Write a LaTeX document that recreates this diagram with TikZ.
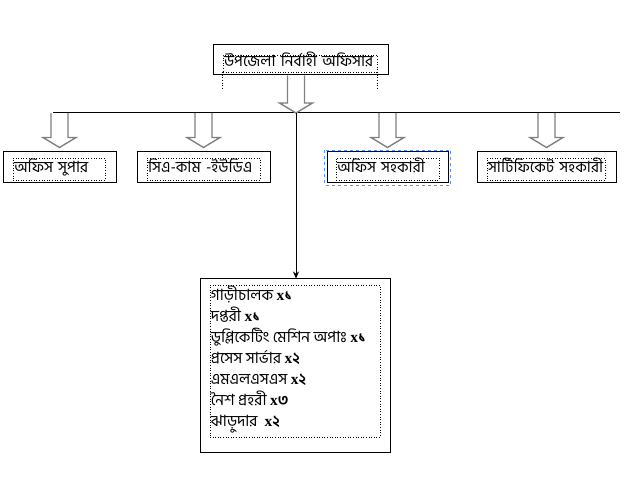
\documentclass[tikz,border=0pt]{standalone}
\usepackage{fontspec}
\setmainfont{Liberation Serif}
\newfontfamily\bangla[Script=Bengali]{Hind Siliguri}
\usetikzlibrary{calc, arrows.meta}
\newcommand{\cnt}[1]{{\rmfamily\bfseries x}{\bfseries #1}}
\tikzset{
outerbox/.style={draw, line width=1pt, minimum height=31pt, inner sep=0pt}, % solid frame round each post
innerbox/.style={draw, dotted, line width=0.6pt, inner sep=1pt, minimum height=22pt, text height=11pt, text depth=4pt, align=left, font=\bangla\fontsize{15.5}{17}\selectfont}, % dotted frame that holds the text
blockarrow/.style={draw=gray, line width=1.4pt, to path={let \p1=(\tikztostart), \p2=(\tikztotarget) in (\x1-8.5pt,\y1) -- (\x1-8.5pt,\y2+10pt) -- (\x1-16.5pt,\y2+10pt) -- (\x2,\y2) -- (\x1+16.5pt,\y2+10pt) -- (\x1+8.5pt,\y2+10pt) -- (\x1+8.5pt,\y1)}}, % hollow arrow
listtext/.style={align=left, inner sep=1pt, font=\bangla\fontsize{15.5}{21}\selectfont}, % staff list
selbox/.style={draw=blue!60!cyan!70, dashed, line width=0.7pt}, % selection frame
}
\begin{document}
\begin{tikzpicture}[x=1pt, y=-1pt]
\useasboundingbox (0,0) rectangle (624,486);
% top post
\node[outerbox, minimum width=175pt, minimum height=30pt] (uno) at (300.5,60) {};
\node[innerbox, text width=152pt, minimum height=17pt] (unoText) at (300,63.5) {উপজেলা নির্বাহী অফিসার};
\draw[dotted, line width=0.6pt] (unoText.south west) -- ++(0,16);
\draw[dotted, line width=0.6pt] (unoText.south east) -- ++(0,16);
% second row
\node[outerbox, minimum width=113pt] (supar) at (59.5,167.5) {};
\node[innerbox, text width=90pt] (suparText) at (59,169) {অফিস সুপার};
\node[outerbox, minimum width=133pt] (ca) at (203.5,167.5) {};
\node[innerbox, text width=111pt] (caText) at (203.5,169) {সিএ-কাম -ইউডিএ};
\node[outerbox, minimum width=121pt] (sohokari) at (387.5,167.5) {};
\node[innerbox, text width=101pt] (sohokariText) at (387.5,169) {অফিস সহকারী};
\draw[selbox] ([shift={(-2pt,1pt)}]sohokari.north west) rectangle ([shift={(2pt,-2pt)}]sohokari.south east);
\node[outerbox, minimum width=139pt] (cert) at (546.5,167.5) {};
\node[innerbox, text width=116pt] (certText) at (546,169) {সার্টিফিকেট সহকারী};
% staff
\node[outerbox, minimum width=190pt, minimum height=173pt] (staff) at (295,365.5) {};
\node[innerbox, text width=168pt, minimum height=152pt] (staffText) at (295,361) {};
\node[listtext, anchor=north west] (staffList) at (staffText.north west) {গাড়ীচালক \cnt{১}\\ দপ্তরী \cnt{১}\\ ডুপ্লিকেটিং মেশিন অপাঃ \cnt{১}\\ প্রসেস সার্ভার \cnt{২}\\ এমএলএসএস \cnt{২}\\ নৈশ প্রহরী \cnt{৩}\\ ঝাড়ুদার~ \cnt{২}};
% connectors
\coordinate (hl) at (53,113);
\coordinate (hr) at (620,113);
\coordinate (fork) at (296,113);
\draw[line width=1pt] (hl) -- (hr);
\draw[blockarrow] (uno.south -| fork) to (fork);
\draw[blockarrow] (supar.north |- hl) to ([yshift=4pt]supar.north);
\draw[blockarrow] (ca.north |- hl) to ([yshift=4pt]ca.north);
\draw[blockarrow] (sohokari.north |- hl) to ([yshift=4pt]sohokari.north);
\draw[blockarrow] (cert.north |- hl) to ([yshift=4pt]cert.north);
\draw[line width=0.8pt, -{Stealth[length=7pt, width=6pt]}] (fork) -- (staff.north -| fork);
\end{tikzpicture}
\end{document}
